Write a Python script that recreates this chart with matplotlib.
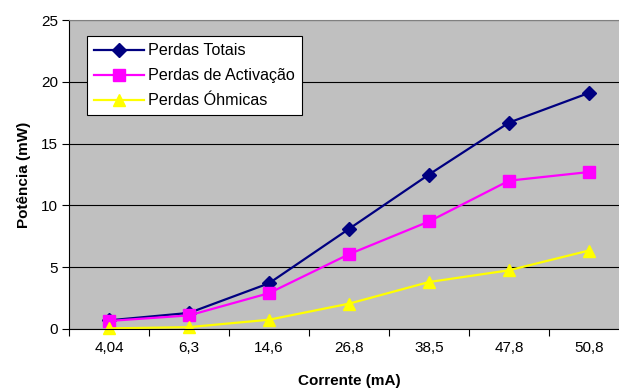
import matplotlib
matplotlib.use("Agg")
import matplotlib.pyplot as plt
import numpy as np

categories = ["4,04", "6,3", "14,6", "26,8", "38,5", "47,8", "50,8"]
perdas_totais = [0.7, 1.3, 3.7, 8.1, 12.5, 16.7, 19.1]
perdas_activacao = [0.65, 1.1, 2.9, 6.05, 8.7, 12.0, 12.7]
perdas_ohmicas = [0.05, 0.15, 0.75, 2.05, 3.8, 4.75, 6.35]

plt.rcParams['font.family'] = ['Liberation Sans', 'DejaVu Sans']

fig = plt.figure(figsize=(6.19, 3.89), dpi=100)
ax = fig.add_axes([69/619, 1-329/389, 560/619, 309/389])
ax.set_facecolor('#C0C0C0')

x = np.arange(len(categories))
ax.plot(x, perdas_totais, color='#000080', marker='D', markersize=7, lw=1.6, label='Perdas Totais', clip_on=False)
ax.plot(x, perdas_activacao, color='#FF00FF', marker='s', markersize=8, lw=1.6, label='Perdas de Activação', clip_on=False)
ax.plot(x, perdas_ohmicas, color='#FFFF00', marker='^', markersize=9, lw=1.6, label='Perdas Óhmicas', clip_on=False)

ax.set_xlim(-0.5, len(categories)-0.5)
ax.set_ylim(0, 25)
ax.set_yticks([0, 5, 10, 15, 20, 25])
ax.yaxis.grid(True, color='black', lw=0.8)
ax.set_axisbelow(True)
ax.set_xticks(x)
ax.set_xticklabels(categories)
ax.set_xticks(np.arange(-0.5, len(categories), 1), minor=True)
ax.tick_params(axis='x', which='major', length=0, pad=9, labelsize=11)
ax.tick_params(axis='x', which='minor', length=5, direction='out', width=0.8)
ax.tick_params(axis='y', length=5, direction='out', width=0.8, labelsize=11, pad=3)

for s in ['top', 'right']:
    ax.spines[s].set_color('#808080')
for s in ['left', 'bottom']:
    ax.spines[s].set_color('black')
    ax.spines[s].set_linewidth(0.8)

ax.set_xlabel('Corrente (mA)', fontsize=11, fontweight='bold', labelpad=13)
ax.set_ylabel('Potência (mW)', fontsize=11, fontweight='bold', labelpad=7)

leg = ax.legend(loc='upper left', bbox_to_anchor=(18/560, 1-16/309), fontsize=11.6,
                frameon=True, fancybox=False, edgecolor='black', framealpha=1,
                handlelength=3.1, borderpad=0.45, labelspacing=0.62, handletextpad=0.25,
                borderaxespad=0)
leg.get_frame().set_linewidth(0.8)

fig.savefig('out.png', dpi=100)
